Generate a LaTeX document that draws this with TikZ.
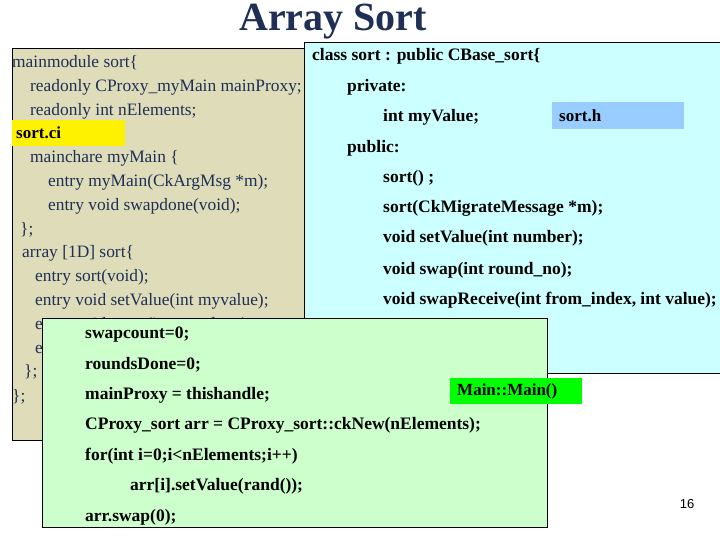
\documentclass[tikz,border=0pt]{standalone}
\usepackage{fontspec}
\setmainfont{Liberation Serif}
\newfontfamily\sansf{Liberation Sans}
\definecolor{tanbg}{HTML}{DEDCB9}
\definecolor{bluebg}{HTML}{CCFFFF}
\definecolor{greenbg}{HTML}{CCFFCC}
\definecolor{navy}{HTML}{1F2F55}
\definecolor{hblue}{HTML}{99CCFF}
\begin{document}
\begin{tikzpicture}[x=1pt,y=-1pt,
  tl/.style={anchor=base west,inner sep=0pt,font=\fontsize{17.4}{17.4}\selectfont,text=navy},
  bl/.style={anchor=base west,inner sep=0pt,font=\fontsize{17.5}{17.5}\selectfont\bfseries},
  lab/.style={anchor=west,inner sep=0pt,font=\fontsize{17}{17}\selectfont\bfseries}]
\useasboundingbox (0,0) rectangle (720,540);
\fill[white] (0,0) rectangle (720,540);
\node[font=\fontsize{40}{40}\selectfont\bfseries,text=navy] (title) at (333,22) {Array Sort};
% tan box
\filldraw[fill=tanbg,draw=black] (12,48) rectangle (330,440);
\node[tl] (t1) at (12,68) {mainmodule sort\{};
\node[tl] (t2) at (30,92) {readonly CProxy\_myMain mainProxy;};
\node[tl] (t3) at (30,116) {readonly int nElements;};
\fill[yellow] (12,120) rectangle (125,146);
\node[lab] (sci) at (16,133) {sort.ci};
\node[tl] (t4) at (30,163) {mainchare myMain \{};
\node[tl] (t5) at (48,187) {entry myMain(CkArgMsg *m);};
\node[tl] (t6) at (48,211) {entry void swapdone(void);};
\node[tl] (t7) at (20,234) {\};};
\node[tl] (t8) at (22,257) {array [1D] sort\{};
\node[tl] (t9) at (35,281) {entry sort(void);};
\node[tl] (t10) at (35,305) {entry void setValue(int myvalue);};
\node[tl] (t11) at (35,329) {entry void swap(int round\_no);};
\node[tl] (t12) at (35,353) {entry void swapReceive(int, int);};
\node[tl] (t13) at (24,376) {\};};
\node[tl] (t14) at (12,401) {\};};
% blue box
\filldraw[fill=bluebg,draw=black] (304,42) rectangle (730,373);
\node[bl] (b1) at (312,61) {class sort : public CBase\_sort\{};
\node[bl] (b2) at (347,92) {private:};
\node[bl] (b3) at (383,122) {int myValue;};
\fill[hblue] (552,102) rectangle (684,129);
\node[lab] (sh) at (559,116) {sort.h};
\node[bl] (b4) at (347,153) {public:};
\node[bl] (b5) at (383,183) {sort() ;};
\node[bl] (b6) at (383,213) {sort(CkMigrateMessage *m);};
\node[bl] (b7) at (383,243) {void setValue(int number);};
\node[bl] (b8) at (383,274) {void swap(int round\_no);};
\node[bl] (b9) at (383,304) {void swapReceive(int from\_index, int value);};
% green box
\filldraw[fill=greenbg,draw=black] (42,318) rectangle (547,527);
\node[bl] (g1) at (85,338) {swapcount=0;};
\node[bl] (g2) at (85,369) {roundsDone=0;};
\node[bl] (g3) at (85,399) {mainProxy = thishandle;};
\node[bl] (g4) at (85,429) {CProxy\_sort arr = CProxy\_sort::ckNew(nElements);};
\node[bl] (g5) at (85,460) {for(int i=0;i<nElements;i++)};
\node[bl] (g6) at (130,490) {arr[i].setValue(rand());};
\node[bl] (g7) at (85,521) {arr.swap(0);};
\fill[green] (450,378) rectangle (582,404);
\node[lab] (mm) at (457,391) {Main::Main()};
\node[font=\sansf\fontsize{13}{13}\selectfont] (pg) at (687,504) {16};
\end{tikzpicture}
\end{document}
